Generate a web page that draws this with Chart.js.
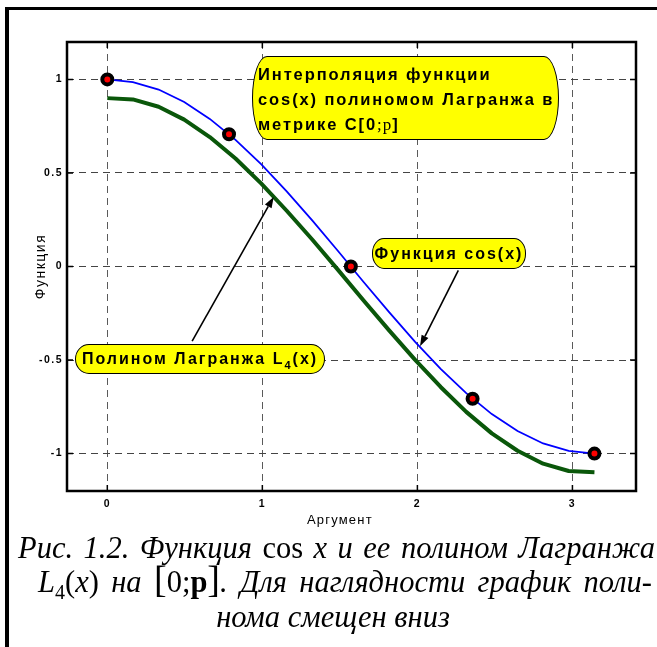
<!DOCTYPE html>
<html>
<head>
<meta charset="utf-8">
<script src="https://cdn.jsdelivr.net/npm/chart.js@4"></script>
<style>
  html, body { margin: 0; padding: 0; background: #fff; }
  #wrap { position: relative; width: 657px; height: 647px; overflow: hidden; }
  #frame { position: absolute; left: 5px; top: 7px; right: -10px; bottom: -10px;
           border-left: 4px solid #000; border-top: 3px solid #000; }
  #plot { position: absolute; left: 0; top: 0; }
  .note { position: absolute; box-sizing: border-box; background: #ffff00; border: 1px solid #000;
          font: bold 16px "Liberation Sans", Arial, sans-serif; letter-spacing: 2px; color: #000;
          white-space: nowrap; }
  .note .sym { font: normal 17px "Liberation Serif", "Times New Roman", serif; letter-spacing: 1px; }
  .note sub { font-size: 11px; vertical-align: -5px; line-height: 0; }
  #n1 { left: 252px; top: 56px; width: 307px; height: 84px; border-radius: 15px / 42px;
        padding: 5px 0 0 5px; line-height: 25px; font-size: 16.5px; letter-spacing: 1.9px; }
  #n2 { left: 372px; top: 238px; width: 154px; height: 31px; border-radius: 12px / 15px;
        line-height: 29px; text-align: center; }
  #n3 { left: 75px; top: 344px; width: 250px; height: 30px; border-radius: 14px / 15px;
        line-height: 28px; text-align: center; }
  .cap { position: absolute; font: italic 30.5px "Liberation Serif", "Times New Roman", serif;
         line-height: 34px; color: #000; }
  .cap .up { font-style: normal; }
  .cap .big { font-style: normal; font-size: 38px; line-height: 0; }
  .cap .sym { font-style: normal; font-weight: bold; }
  .cap sub { font-style: normal; font-size: 20px; vertical-align: -7px; line-height: 0; }
  #c1 { left: 18px; width: 637px; top: 531px; text-align: justify; text-align-last: justify; }
  #c2 { left: 38px; width: 614px; top: 565px; text-align: justify; text-align-last: justify; }
  #c3 { left: 10px; width: 646px; top: 600px; text-align: center; }
</style>
</head>
<body>
<div id="wrap">
  <div id="frame"></div>
  <canvas id="plot" width="657" height="647"></canvas>

  <div class="note" id="n1">Интерполяция функции<br>cos(x) полиномом Лагранжа в<br>метрике C[0<span class="sym">;p</span>]</div>
  <div class="note" id="n2">Функция cos(x)</div>
  <div class="note" id="n3">Полином Лагранжа L<sub>4</sub>(x)</div>

  <div class="cap" id="c1">Рис. 1.2. Функция <span class="up">cos</span> x и ее полином Лагранжа</div>
  <div class="cap" id="c2">L<sub>4</sub><span class="up">(</span>x<span class="up">)</span> на <span class="big">[</span><span class="up">0;</span><span class="sym">p</span><span class="big">]</span>. Для наглядности график поли-</div>
  <div class="cap" id="c3">нома смещен вниз</div>
</div>

<script>
// Argument grid on [0; pi] and the two curves sampled on it
const xArg = [0, 0.165, 0.331, 0.496, 0.661, 0.827, 0.992, 1.157, 1.323, 1.488,
              1.653, 1.819, 1.984, 2.150, 2.315, 2.480, 2.646, 2.811, 2.976, 3.142];
const cosVals = [1.000, 0.986, 0.946, 0.879, 0.789, 0.677, 0.547, 0.402, 0.245, 0.083,
                 -0.083, -0.245, -0.402, -0.547, -0.677, -0.789, -0.879, -0.946, -0.986, -1.000];
// Lagrange polynomial L4(x), shifted down by 0.1 for readability
const lagrangeShifted = [0.900, 0.893, 0.854, 0.785, 0.692, 0.577, 0.444, 0.298, 0.143, -0.018,
                         -0.182, -0.343, -0.498, -0.644, -0.777, -0.892, -0.985, -1.054, -1.093, -1.100];
// Interpolation nodes
const nodeX = [0, 0.785, 1.571, 2.356, 3.142];
const nodeY = [1, 0.707, 0, -0.707, -1];

// Axis ticks
const xTicks = [0, 1, 2, 3];
const xTickLabels = ['0', '1', '2', '3'];
const yTicks = [-1, -0.5, 0, 0.5, 1];
const yTickLabels = ['-1', '-0.5', '0', '0.5', '1'];

// Axis titles
const xTitle = 'Аргумент';
const yTitle = 'Функция';

// Callout arrows: tail -> head, in data units
const arrowTails = [[0.547, -0.399], [2.264, -0.021]];
const arrowHeads = [[1.073, 0.372], [2.017, -0.426]];

const axisBoxPlugin = {
  id: 'axisBox',
  beforeDraw(chart) {
    chart.ctx.letterSpacing = '1.5px';
  },
  afterDatasetsDraw(chart) {
    const { ctx, chartArea: a, scales: { x, y } } = chart;
    ctx.save();
    ctx.letterSpacing = '0px';
    ctx.strokeStyle = '#000';
    ctx.fillStyle = '#000';

    // arrows
    ctx.lineWidth = 1.6;
    arrowTails.forEach((t, i) => {
      const x0 = x.getPixelForValue(t[0]), y0 = y.getPixelForValue(t[1]);
      const x1 = x.getPixelForValue(arrowHeads[i][0]), y1 = y.getPixelForValue(arrowHeads[i][1]);
      const ang = Math.atan2(y1 - y0, x1 - x0);
      const len = 11, half = 3.8;
      const bx = x1 - len * Math.cos(ang), by = y1 - len * Math.sin(ang);
      ctx.beginPath();
      ctx.moveTo(x0, y0);
      ctx.lineTo(bx, by);
      ctx.stroke();
      ctx.beginPath();
      ctx.moveTo(x1, y1);
      ctx.lineTo(bx + half * Math.sin(ang), by - half * Math.cos(ang));
      ctx.lineTo(bx - half * Math.sin(ang), by + half * Math.cos(ang));
      ctx.closePath();
      ctx.fill();
    });

    // axes box
    ctx.lineWidth = 2.5;
    ctx.strokeRect(a.left, a.top, a.right - a.left, a.bottom - a.top);

    // inward tick marks on all four sides
    ctx.lineWidth = 1.5;
    ctx.beginPath();
    x.ticks.forEach(t => {
      const p = x.getPixelForValue(t.value);
      ctx.moveTo(p, a.bottom); ctx.lineTo(p, a.bottom - 6);
      ctx.moveTo(p, a.top); ctx.lineTo(p, a.top + 6);
    });
    y.ticks.forEach(t => {
      const p = y.getPixelForValue(t.value);
      ctx.moveTo(a.left, p); ctx.lineTo(a.left + 6, p);
      ctx.moveTo(a.right, p); ctx.lineTo(a.right - 6, p);
    });
    ctx.stroke();

    // x-axis title, centred under x = 1.5
    ctx.letterSpacing = '1.2px';
    ctx.font = '13px "Liberation Sans", Arial, sans-serif';
    ctx.textAlign = 'center';
    ctx.textBaseline = 'alphabetic';
    ctx.fillText(xTitle, x.getPixelForValue(1.5), a.bottom + 33);
    ctx.restore();
  }
};

const tickFont = { family: '"Liberation Sans", Arial, sans-serif', size: 10.5, weight: 'bold' };

new Chart(document.getElementById('plot'), {
  type: 'scatter',
  data: {
    datasets: [
      {
        data: nodeX.map((v, i) => ({ x: v, y: nodeY[i] })),
        showLine: false,
        pointRadius: 5,
        pointBorderWidth: 4,
        pointBackgroundColor: '#ff0000',
        pointBorderColor: '#000000',
        order: 0
      },
      {
        data: xArg.map((v, i) => ({ x: v, y: cosVals[i] })),
        showLine: true,
        borderColor: '#0000ff',
        borderWidth: 1.8,
        pointRadius: 0,
        tension: 0,
        order: 1
      },
      {
        data: xArg.map((v, i) => ({ x: v, y: lagrangeShifted[i] })),
        showLine: true,
        borderColor: '#0a570a',
        borderWidth: 4,
        borderJoinStyle: 'round',
        pointRadius: 0,
        tension: 0,
        order: 2
      }
    ]
  },
  options: {
    responsive: false,
    animation: false,
    events: [],
    layout: { padding: { left: 20, right: 21, top: 42, bottom: 116 } },
    plugins: { legend: { display: false }, tooltip: { enabled: false } },
    scales: {
      x: {
        type: 'linear',
        min: -0.26,
        max: 3.41,
        afterBuildTicks: s => { s.ticks = xTicks.map(v => ({ value: v })); },
        afterFit: s => { s.height = 40; },
        grid: { color: '#5a5a5a', lineWidth: 1, drawTicks: false },
        border: { display: false, dash: [7, 5] },
        ticks: {
          padding: 7, color: '#000', font: tickFont, maxRotation: 0, autoSkip: false,
          callback: v => xTickLabels[xTicks.indexOf(v)]
        }
      },
      y: {
        type: 'linear',
        min: -1.2,
        max: 1.2,
        afterBuildTicks: s => { s.ticks = yTicks.map(v => ({ value: v })); },
        afterFit: s => { s.width = 47; },
        grid: { color: '#444', lineWidth: 1, drawTicks: false },
        border: { display: false, dash: [7, 5] },
        ticks: {
          padding: 4, color: '#000', font: tickFont, autoSkip: false,
          callback: v => yTickLabels[yTicks.indexOf(v)]
        },
        title: {
          display: true, text: yTitle, color: '#000',
          font: { family: '"Liberation Sans", Arial, sans-serif', size: 14 },
          padding: { top: 13, bottom: 0 }
        }
      }
    }
  },
  plugins: [axisBoxPlugin]
});
</script>
</body>
</html>
